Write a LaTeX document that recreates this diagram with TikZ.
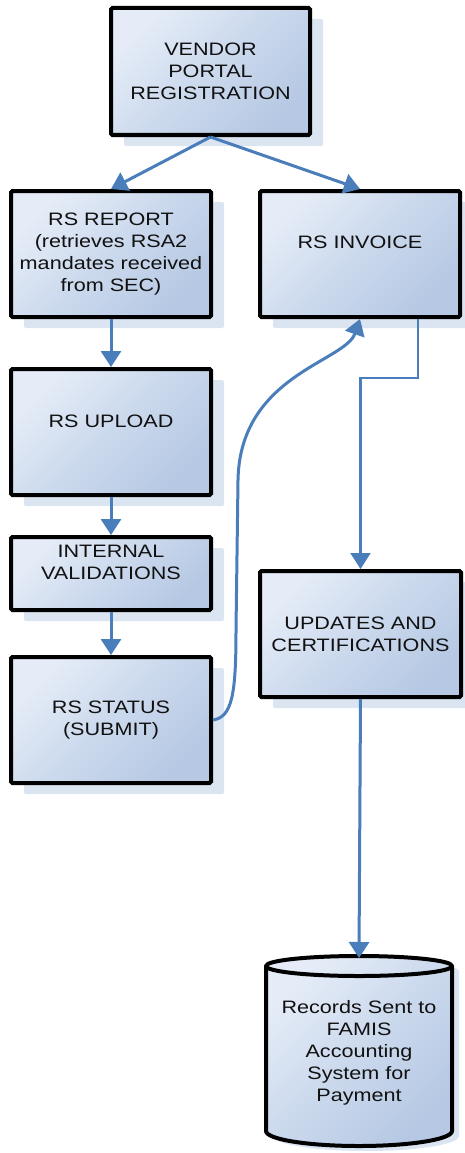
\documentclass[tikz,border=0pt]{standalone}
\usepackage{fontspec}
\setmainfont{Liberation Sans}[FakeStretch=1.2]
\usetikzlibrary{arrows.meta,shadows}

\definecolor{boxlight}{RGB}{229,236,247}
\definecolor{boxmid}{RGB}{203,217,237}
\definecolor{boxdark}{RGB}{182,200,227}
\definecolor{shadowblue}{RGB}{219,229,242}
\definecolor{flowblue}{RGB}{74,126,187}
\definecolor{inkblack}{RGB}{17,17,17}

\tikzset{
  boxfill/.style={top color=boxlight, bottom color=boxdark, middle color=boxmid,
      shading angle=45},
  boxshadow/.style={drop shadow={shadow xshift=13pt, shadow yshift=-11pt,
      fill=shadowblue, opacity=1}},
  label text/.style={font=\fontsize{18}{22}\selectfont, text=inkblack, align=center},
  procbox/.style={draw=black, line width=4pt, rounded corners=1.5pt,
      boxfill, boxshadow, label text,
      minimum width=200pt, minimum height=126pt, inner sep=0pt, outer sep=2pt},
  flow/.style={draw=flowblue, line width=3pt,
      -{Triangle[length=16pt,width=20pt]}},
  link/.style={draw=flowblue, line width=2.2pt,
      -{Triangle[length=16pt,width=20pt]}},
}

\begin{document}
\begin{tikzpicture}[x=1pt,y=-1pt]
\useasboundingbox (0,0) rectangle (464,1153);

% process boxes
\node[procbox, minimum width=199pt, minimum height=127pt] (vendor) at (210.5,71.5)
  {VENDOR\\PORTAL\\REGISTRATION};
\node[procbox] (report) at (111,254)
  {RS REPORT\\(retrieves RSA2\\mandates received\\from SEC)};
\node[procbox, text height=13pt, text depth=25pt] (invoice) at (360,254) {RS INVOICE};
\node[procbox, text height=13pt, text depth=23pt] (upload) at (111,432) {RS UPLOAD};
\node[procbox, minimum height=73pt, text height=35pt, text depth=24pt] (internal)
  at (111,573.5) {INTERNAL\\VALIDATIONS};
\node[procbox] (status) at (111,720) {RS STATUS\\(SUBMIT)};
\node[procbox, minimum width=201pt] (updates) at (360.5,634)
  {UPDATES AND\\CERTIFICATIONS};

% storage cylinder
\shadedraw[boxfill, draw=black, line width=4pt, line join=round,
    drop shadow={shadow xshift=7pt, shadow yshift=-5pt, fill=shadowblue, opacity=1}]
  (266,966) -- (266,1131)
  arc[start angle=180, end angle=0, x radius=93, y radius=15]
  -- (452,966)
  arc[start angle=0, end angle=-180, x radius=93, y radius=10] -- cycle;
\draw[line width=4pt] (266,966)
  arc[start angle=180, end angle=0, x radius=93, y radius=10];
\node[label text, minimum width=186pt, minimum height=190pt, inner sep=0pt,
    outer sep=2pt] (records) at (359,1053)
  {Records Sent to\\FAMIS\\Accounting\\System for\\Payment};

% connectors
\draw[flow] (vendor.south) -- (report.north);
\draw[flow] (vendor.south) -- (invoice.north);
\draw[flow] (report.south) -- (upload.north);
\draw[flow] (upload.south) -- (internal.north);
\draw[flow] (internal.south) -- (status.north);
\draw[flow] (status.east) .. controls (232,717) and (236,695) .. (236,630)
  -- (238,480) .. controls (240,375) and (345,362) .. (invoice.south);
\draw[link] ([xshift=58pt]invoice.south) -- ++(0,59) -| (updates.north);
\draw[flow] (updates.south) -- ([yshift=-2pt]records.north);
\end{tikzpicture}
\end{document}
